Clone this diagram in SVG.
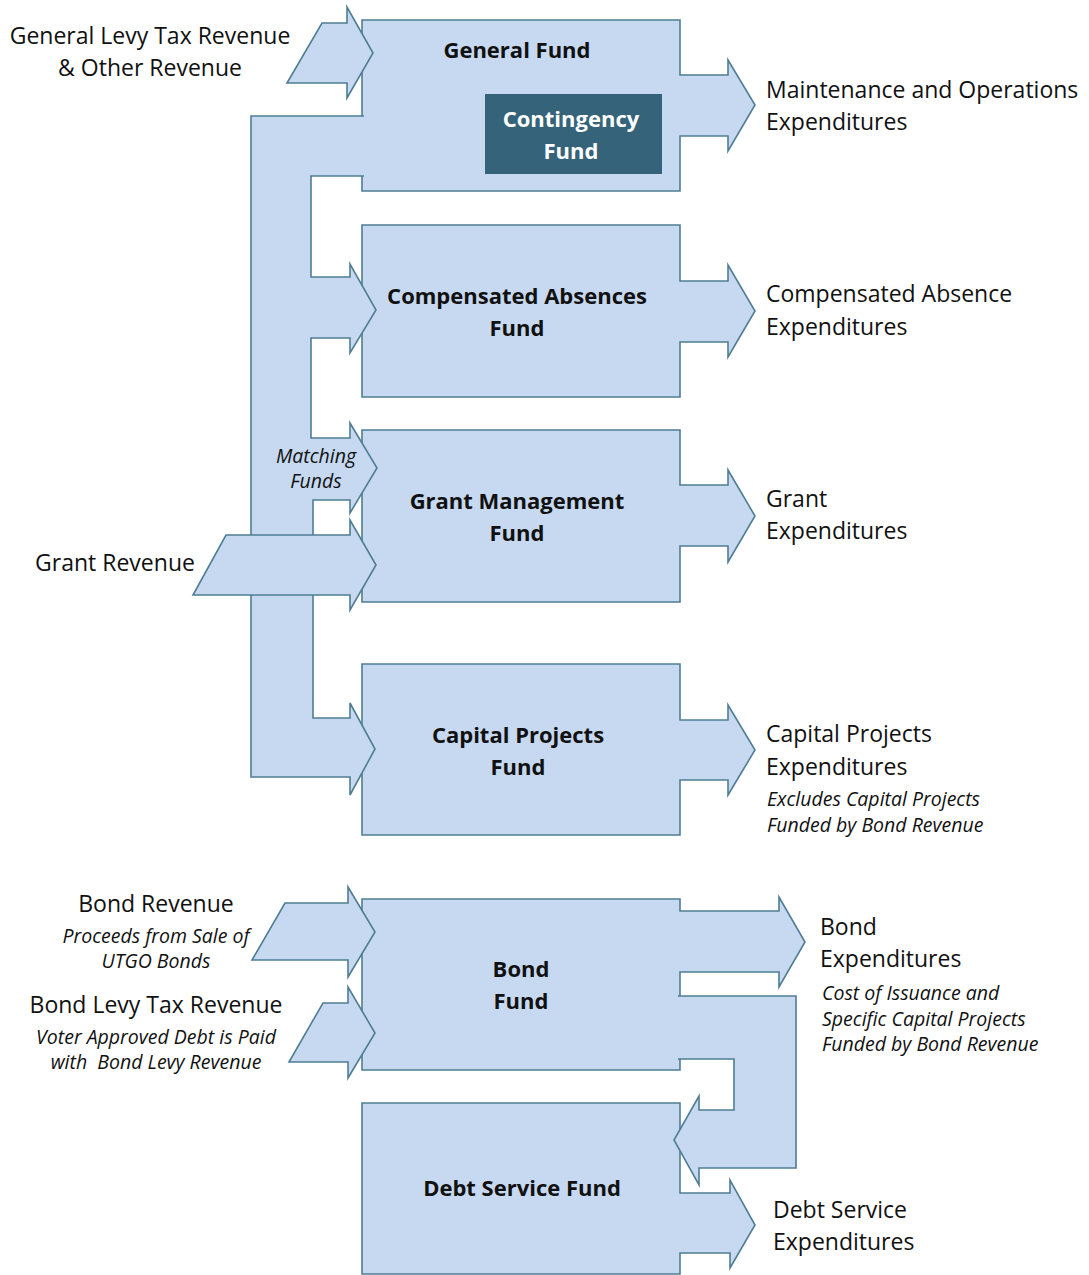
<svg xmlns="http://www.w3.org/2000/svg" width="1089" height="1275" viewBox="0 0 1089 1275">
<style>
.shape{fill:#c6d9f0;stroke:#4f7d93;stroke-width:1.6;stroke-linejoin:miter}
.t{font-family:"Open Sans","Liberation Sans",sans-serif;font-size:23px;fill:#111}
.b{font-weight:bold;font-size:22px}
.i{font-style:italic;font-size:19.5px}
.c{text-anchor:middle}
.w{fill:#ffffff}
</style>
<rect width="1089" height="1275" fill="#ffffff"/>

<g id="general-fund">
<path class="shape" d="M362 20 H680 V75 H728 V60 L755 105 L728 151 V136 H680 V191 H362 Z"/>
<text class="t b c" x="517" y="58">General Fund</text>
</g>
<g id="contingency-fund">
<rect x="485" y="94" width="177" height="80" fill="#35637a"/>
<text class="t b c w" x="571" y="127">Contingency</text>
<text class="t b c w" x="571" y="159">Fund</text>
</g>
<g id="compensated-absences-fund">
<path class="shape" d="M362 225 H680 V281 H728 V265 L755 311 L728 357 V342 H680 V397 H362 Z"/>
<text class="t b c" x="517" y="304">Compensated Absences</text>
<text class="t b c" x="517" y="336">Fund</text>
</g>
<g id="grant-management-fund">
<path class="shape" d="M362 430 H680 V485 H728 V470 L755 516 L728 562 V546 H680 V602 H362 Z"/>
<text class="t b c" x="517" y="509">Grant Management</text>
<text class="t b c" x="517" y="541">Fund</text>
</g>
<g id="capital-projects-fund">
<path class="shape" d="M362 664 H680 V720 H728 V705 L755 750 L728 795 V780 H680 V835 H362 Z"/>
<text class="t b c" x="518" y="743">Capital Projects</text>
<text class="t b c" x="518" y="775">Fund</text>
</g>
<g id="bond-fund">
<path class="shape" d="M362 899 H680 V911 H779 V897 L805 942 L779 987 V972 H680 V1070 H362 Z"/>
<text class="t b c" x="521" y="977">Bond</text>
<text class="t b c" x="521" y="1009">Fund</text>
</g>
<g id="debt-service-fund">
<path class="shape" d="M362 1103 H680 V1193 H730 V1180 L755 1225 L730 1268 V1253 H680 V1274 H362 Z"/>
<text class="t b c" x="522" y="1196">Debt Service Fund</text>
</g>

<g id="connectors">
<path class="shape" d="M364 116 H251 V777 H350 V795 L375 749 L350 703 V718 H313 V500 H350 V513 L377 468 L350 423 V438 H311 V338 H350 V353 L376 310 L350 264 V277 H311 V176 H364"/>
<path class="shape" d="M322 23 H347 V7 L373 53 L347 98 V83 H287 Z"/>
<path class="shape" d="M226 535 H350 V520 L376 565 L350 610 V595 H193 Z"/>
<path class="shape" d="M285 903 H348 V887 L375 932 L348 977 V960 H252 Z"/>
<path class="shape" d="M323 1003 H348 V987 L375 1033 L348 1078 V1062 H289 Z"/>
<path class="shape" d="M678 996 H796 V1168 H699 V1185 L674 1140 L699 1096 V1110 H734 V1059 H678"/>
</g>

<g id="labels">
<text class="t c" x="150" y="44">General Levy Tax Revenue</text>
<text class="t c" x="150" y="76">&amp; Other Revenue</text>
<text class="t" x="766" y="98">Maintenance and Operations</text>
<text class="t" x="766" y="130">Expenditures</text>
<text class="t" x="766" y="302">Compensated Absence</text>
<text class="t" x="766" y="335">Expenditures</text>
<text class="t i c" x="316" y="463">Matching</text>
<text class="t i c" x="316" y="488">Funds</text>
<text class="t" x="766" y="507">Grant</text>
<text class="t" x="766" y="539">Expenditures</text>
<text class="t c" x="115" y="571">Grant Revenue</text>
<text class="t" x="766" y="742">Capital Projects</text>
<text class="t" x="766" y="775">Expenditures</text>
<text class="t i" x="767" y="806">Excludes Capital Projects</text>
<text class="t i" x="767" y="832">Funded by Bond Revenue</text>
<text class="t c" x="156" y="912">Bond Revenue</text>
<text class="t i c" x="156" y="943">Proceeds from Sale of</text>
<text class="t i c" x="156" y="968">UTGO Bonds</text>
<text class="t c" x="156" y="1013">Bond Levy Tax Revenue</text>
<text class="t i c" x="156" y="1044">Voter Approved Debt is Paid</text>
<text class="t i c" x="156" y="1069" xml:space="preserve">with  Bond Levy Revenue</text>
<text class="t" x="820" y="935">Bond</text>
<text class="t" x="820" y="967">Expenditures</text>
<text class="t i" x="822" y="1000">Cost of Issuance and</text>
<text class="t i" x="822" y="1026">Specific Capital Projects</text>
<text class="t i" x="822" y="1051">Funded by Bond Revenue</text>
<text class="t" x="773" y="1218">Debt Service</text>
<text class="t" x="773" y="1250">Expenditures</text>
</g>
</svg>
